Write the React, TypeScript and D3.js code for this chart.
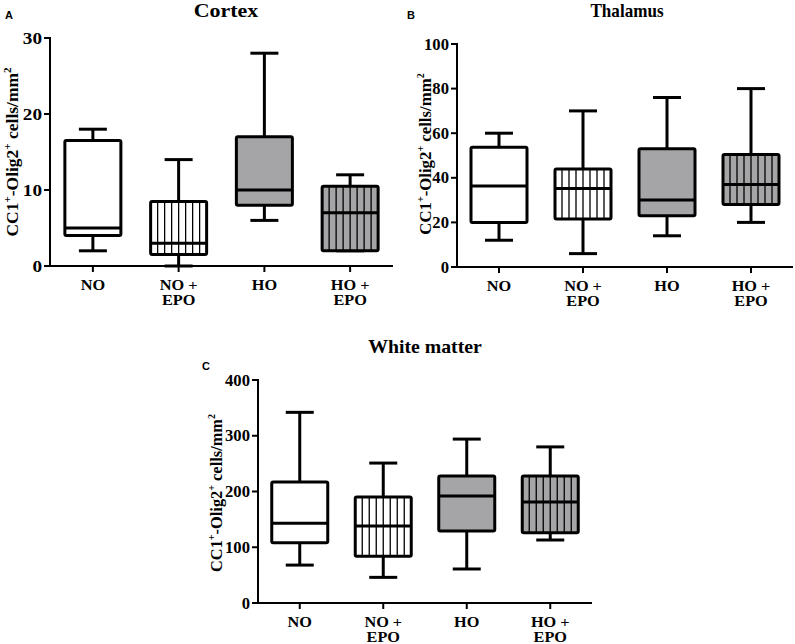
import React from "react";
import * as d3 from "d3";

const categories = ["NO", "NO + EPO", "HO", "HO + EPO"];
const fills = ["#ffffff", "#ffffff", "#a5a5a8", "#a5a5a8"];
const striped = [false, true, false, true];

const cortexMin = [2, 0, 6, 2];
const cortexQ1 = [4, 1.5, 8, 2];
const cortexMedian = [5, 3, 10, 7];
const cortexQ3 = [16.5, 8.5, 17, 10.5];
const cortexMax = [18, 14, 28, 12];
const cortexTicks = [0, 10, 20, 30];

const thalamusMin = [12, 6, 14, 20];
const thalamusQ1 = [20, 21.5, 23, 28];
const thalamusMedian = [36.3, 35.2, 30, 37];
const thalamusQ3 = [53.7, 44, 53, 50.5];
const thalamusMax = [60, 70, 76, 80];
const thalamusTicks = [0, 20, 40, 60, 80, 100];

const wmMin = [68, 46, 61, 113];
const wmQ1 = [108, 84, 129, 126];
const wmMedian = [143, 138, 192, 181];
const wmQ3 = [217, 190, 228, 228];
const wmMax = [342, 251, 294, 280];
const wmTicks = [0, 100, 200, 300, 400];

const SERIF = "'Liberation Serif', 'Times New Roman', serif";
const SANS = "'Liberation Sans', Arial, sans-serif";

function SText(props: {
  x: number;
  y: number;
  sx?: number;
  size: number;
  anchor?: string;
  family?: string;
  children: React.ReactNode;
}) {
  const sx = props.sx ?? 1;
  return (
    <text
      transform={`translate(${props.x},${props.y}) scale(${sx},1)`}
      fontFamily={props.family ?? SERIF}
      fontWeight="bold"
      fontSize={props.size}
      textAnchor={props.anchor ?? "start"}
    >
      {props.children}
    </text>
  );
}

type PanelProps = {
  letter: string;
  title: string;
  x0: number;
  x1: number;
  yTop: number;
  yBottom: number;
  domainMax: number;
  ticks: number[];
  mins: number[];
  q1s: number[];
  medians: number[];
  q3s: number[];
  maxs: number[];
  titleX: number;
  titleY: number;
  titleSx: number;
  tickSx: number;
  letterX: number;
  letterY: number;
  yTitleX: number;
  yTitleY: number;
  yTitleSize: number;
};

function Panel(p: PanelProps) {
  const x = d3.scaleBand<string>().domain(categories).range([p.x0, p.x1]).padding(0);
  const y = d3.scaleLinear().domain([0, p.domainMax]).range([p.yBottom, p.yTop]);
  const boxW = 56;
  const capW = 28;
  const sup = Math.round(p.yTitleSize * 0.62);
  const shift = Math.round(p.yTitleSize * 0.4);
  return (
    <g>
      <SText x={p.letterX} y={p.letterY} size={11} family={SANS}>
        {p.letter}
      </SText>
      <SText x={p.titleX} y={p.titleY} size={18} sx={p.titleSx} anchor="middle">
        {p.title}
      </SText>
      <text
        transform={`translate(${p.yTitleX},${p.yTitleY}) rotate(-90)`}
        fontFamily={SERIF}
        fontWeight="bold"
        fontSize={p.yTitleSize}
        textAnchor="middle"
      >
        CC1
        <tspan dy={-shift} fontSize={sup}>+</tspan>
        <tspan dy={shift}>-Olig2</tspan>
        <tspan dy={-shift} fontSize={sup}>+</tspan>
        <tspan dy={shift}> cells/mm</tspan>
        <tspan dy={-shift} fontSize={sup}>2</tspan>
      </text>
      {categories.map((c, i) => {
        const cx = (x(c) as number) + x.bandwidth() / 2;
        const left = cx - boxW / 2;
        const top = y(p.q3s[i]);
        const bot = y(p.q1s[i]);
        const stripes = striped[i] ? d3.range(1, 8).map((k) => left + (k * boxW) / 8) : [];
        return (
          <g key={c}>
            <line x1={cx} x2={cx} y1={y(p.maxs[i])} y2={top} stroke="#000" strokeWidth={3} />
            <line x1={cx} x2={cx} y1={bot} y2={y(p.mins[i])} stroke="#000" strokeWidth={3} />
            <line x1={cx - capW / 2} x2={cx + capW / 2} y1={y(p.maxs[i])} y2={y(p.maxs[i])} stroke="#000" strokeWidth={3} />
            <line x1={cx - capW / 2} x2={cx + capW / 2} y1={y(p.mins[i])} y2={y(p.mins[i])} stroke="#000" strokeWidth={3} />
            <rect x={left} y={top} width={boxW} height={bot - top} fill={fills[i]} stroke="none" />
            {stripes.map((sx, k) => (
              <line key={k} x1={sx} x2={sx} y1={top} y2={bot} stroke="#000" strokeWidth={1.3} />
            ))}
            <rect
              x={left}
              y={top}
              width={boxW}
              height={bot - top}
              fill="none"
              stroke="#000"
              strokeWidth={3}
              strokeLinejoin="round"
              rx={1.5}
            />
            <line x1={left} x2={left + boxW} y1={y(p.medians[i])} y2={y(p.medians[i])} stroke="#000" strokeWidth={3} />
          </g>
        );
      })}
      <line x1={p.x0} x2={p.x0} y1={p.yTop - 1} y2={p.yBottom + 1} stroke="#000" strokeWidth={2} />
      {p.ticks.map((t) => (
        <g key={t}>
          <line x1={p.x0 - 6} x2={p.x0} y1={y(t)} y2={y(t)} stroke="#000" strokeWidth={2} />
          <SText x={p.x0 - 8} y={y(t) + 5.5} size={16} sx={p.tickSx} anchor="end">
            {t}
          </SText>
        </g>
      ))}
      <line x1={p.x0 - 1} x2={p.x1} y1={p.yBottom} y2={p.yBottom} stroke="#000" strokeWidth={2} />
      {categories.map((c) => {
        const cx = (x(c) as number) + x.bandwidth() / 2;
        const parts = c.includes("+") ? [c.replace(" EPO", ""), "EPO"] : [c];
        return (
          <g key={c}>
            <line x1={cx} x2={cx} y1={p.yBottom} y2={p.yBottom + 6} stroke="#000" strokeWidth={2} />
            {parts.map((s, k) => (
              <SText key={k} x={cx} y={p.yBottom + 24 + k * 15} size={15.5} sx={1.05} anchor="middle">
                {s}
              </SText>
            ))}
          </g>
        );
      })}
    </g>
  );
}

export default function App() {
  return (
    <svg width={795} height={644} style={{ position: "absolute", left: 0, top: 0, background: "#fff" }}>
      <Panel
        letter="A"
        title="Cortex"
        x0={50}
        x1={393}
        yTop={38}
        yBottom={266}
        domainMax={30}
        ticks={cortexTicks}
        mins={cortexMin}
        q1s={cortexQ1}
        medians={cortexMedian}
        q3s={cortexQ3}
        maxs={cortexMax}
        titleX={226}
        titleY={17}
        titleSx={1.22}
        tickSx={1.2}
        letterX={5}
        letterY={19}
        yTitleX={18}
        yTitleY={152}
        yTitleSize={17.5}
      />
      <Panel
        letter="B"
        title="Thalamus"
        x0={457}
        x1={793}
        yTop={44}
        yBottom={267}
        domainMax={100}
        ticks={thalamusTicks}
        mins={thalamusMin}
        q1s={thalamusQ1}
        medians={thalamusMedian}
        q3s={thalamusQ3}
        maxs={thalamusMax}
        titleX={627}
        titleY={17}
        titleSx={0.95}
        tickSx={1.04}
        letterX={407}
        letterY={19}
        yTitleX={431}
        yTitleY={154}
        yTitleSize={16.8}
      />
      <Panel
        letter="C"
        title="White matter"
        x0={258}
        x1={592}
        yTop={380}
        yBottom={603}
        domainMax={400}
        ticks={wmTicks}
        mins={wmMin}
        q1s={wmQ1}
        medians={wmMedian}
        q3s={wmQ3}
        maxs={wmMax}
        titleX={425}
        titleY={353}
        titleSx={1.1}
        tickSx={1.04}
        letterX={202}
        letterY={370}
        yTitleX={222}
        yTitleY={493}
        yTitleSize={16.4}
      />
    </svg>
  );
}
